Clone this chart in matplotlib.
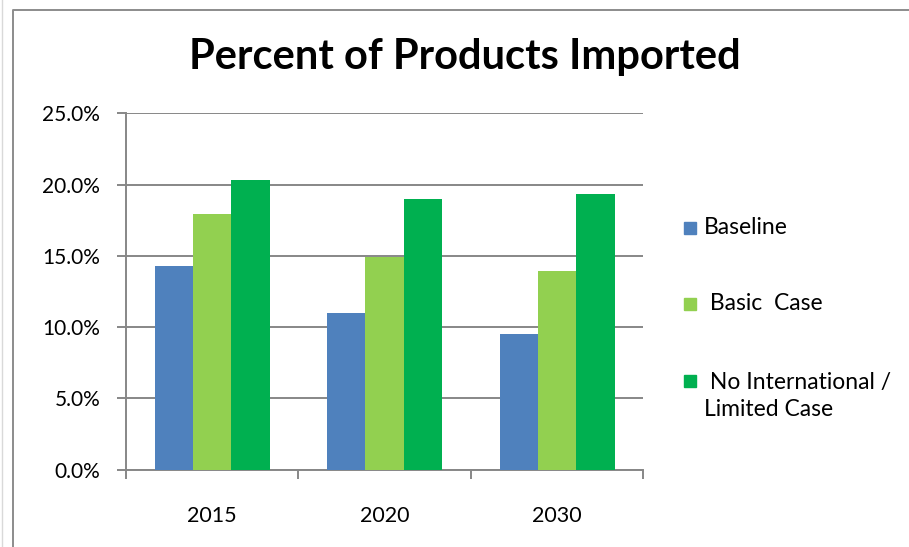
import matplotlib
matplotlib.use("Agg")
import matplotlib.pyplot as plt
from matplotlib.patches import Rectangle
from matplotlib.lines import Line2D
from matplotlib.ticker import FixedLocator, PercentFormatter
import numpy as np

plt.rcParams['font.family'] = ['Lato', 'DejaVu Sans']

years = ["2015", "2020", "2030"]
series_names = ["Baseline", " Basic  Case", " No International /\nLimited Case"]
baseline = [14.3, 11.0, 9.5]
basic_case = [17.9, 14.9, 13.9]
no_international = [20.3, 19.0, 19.35]
series_values = [baseline, basic_case, no_international]
colors = ["#4F81BD", "#92D050", "#00B050"]
y_ticks = [0, 5, 10, 15, 20, 25]

W, H = 909, 547
fig = plt.figure(figsize=(W / 100, H / 100), dpi=100)
fig.patch.set_facecolor("white")

ax = fig.add_axes([126 / W, 1 - 469.5 / H, (643.3 - 126) / W, (469.5 - 113.3) / H])

n = len(series_values)
x = np.arange(len(years))
group = 0.667
bw = group / n
for i, (vals, col) in enumerate(zip(series_values, colors)):
    ax.bar(x - group / 2 + bw * (i + 0.5), vals, width=bw, color=col,
           edgecolor="none", zorder=3)

ax.set_xlim(-0.5, len(years) - 0.5)
ax.set_ylim(0, 25)

grid_col = "#878787"
ax.yaxis.set_major_locator(FixedLocator(y_ticks))
ax.yaxis.set_major_formatter(PercentFormatter(decimals=1))
ax.grid(axis="y", color=grid_col, linewidth=1.4, zorder=0)
ax.set_axisbelow(True)

ax.set_xticks(x)
ax.set_xticklabels(years)
ax.set_xticks(np.arange(len(years) + 1) - 0.5, minor=True)
ax.tick_params(axis="x", which="major", length=0, pad=26, labelsize=15.5)
ax.tick_params(axis="x", which="minor", length=6.5, width=1.4, color=grid_col)
ax.tick_params(axis="y", which="major", length=6.5, width=1.4, color=grid_col,
               pad=12, labelsize=15)

for side in ("top", "right"):
    ax.spines[side].set_visible(False)
for side in ("left", "bottom"):
    ax.spines[side].set_color(grid_col)
    ax.spines[side].set_linewidth(1.4)

fig.text(465 / W, 1 - 57 / H, "Percent of Products Imported",
         ha="center", va="center", fontsize=30, fontweight="bold")

# legend drawn as colour keys with labels
legend_rows = [228, 304, 396]
for name, col, yc in zip(series_names, colors, legend_rows):
    sq = 12
    key_y = yc if "\n" not in name else 381
    fig.patches.append(Rectangle((684 / W, 1 - (key_y + sq / 2) / H), sq / W, sq / H,
                                 transform=fig.transFigure, color=col))
    fig.text(704 / W, 1 - yc / H, name, ha="left", va="center", fontsize=16.5,
             linespacing=1.35)

# chart frame
fig.add_artist(Line2D([13 / W, 13 / W, 1.01], [-0.01, 1 - 10 / H, 1 - 10 / H],
                      transform=fig.transFigure, color="#8c8c8c", linewidth=1.4))
fig.add_artist(Line2D([1.5 / W, 1.5 / W], [0, 1], transform=fig.transFigure,
                      color="#d9d9d9", linewidth=1.0))

fig.savefig("out.png", dpi=100, facecolor="white")
